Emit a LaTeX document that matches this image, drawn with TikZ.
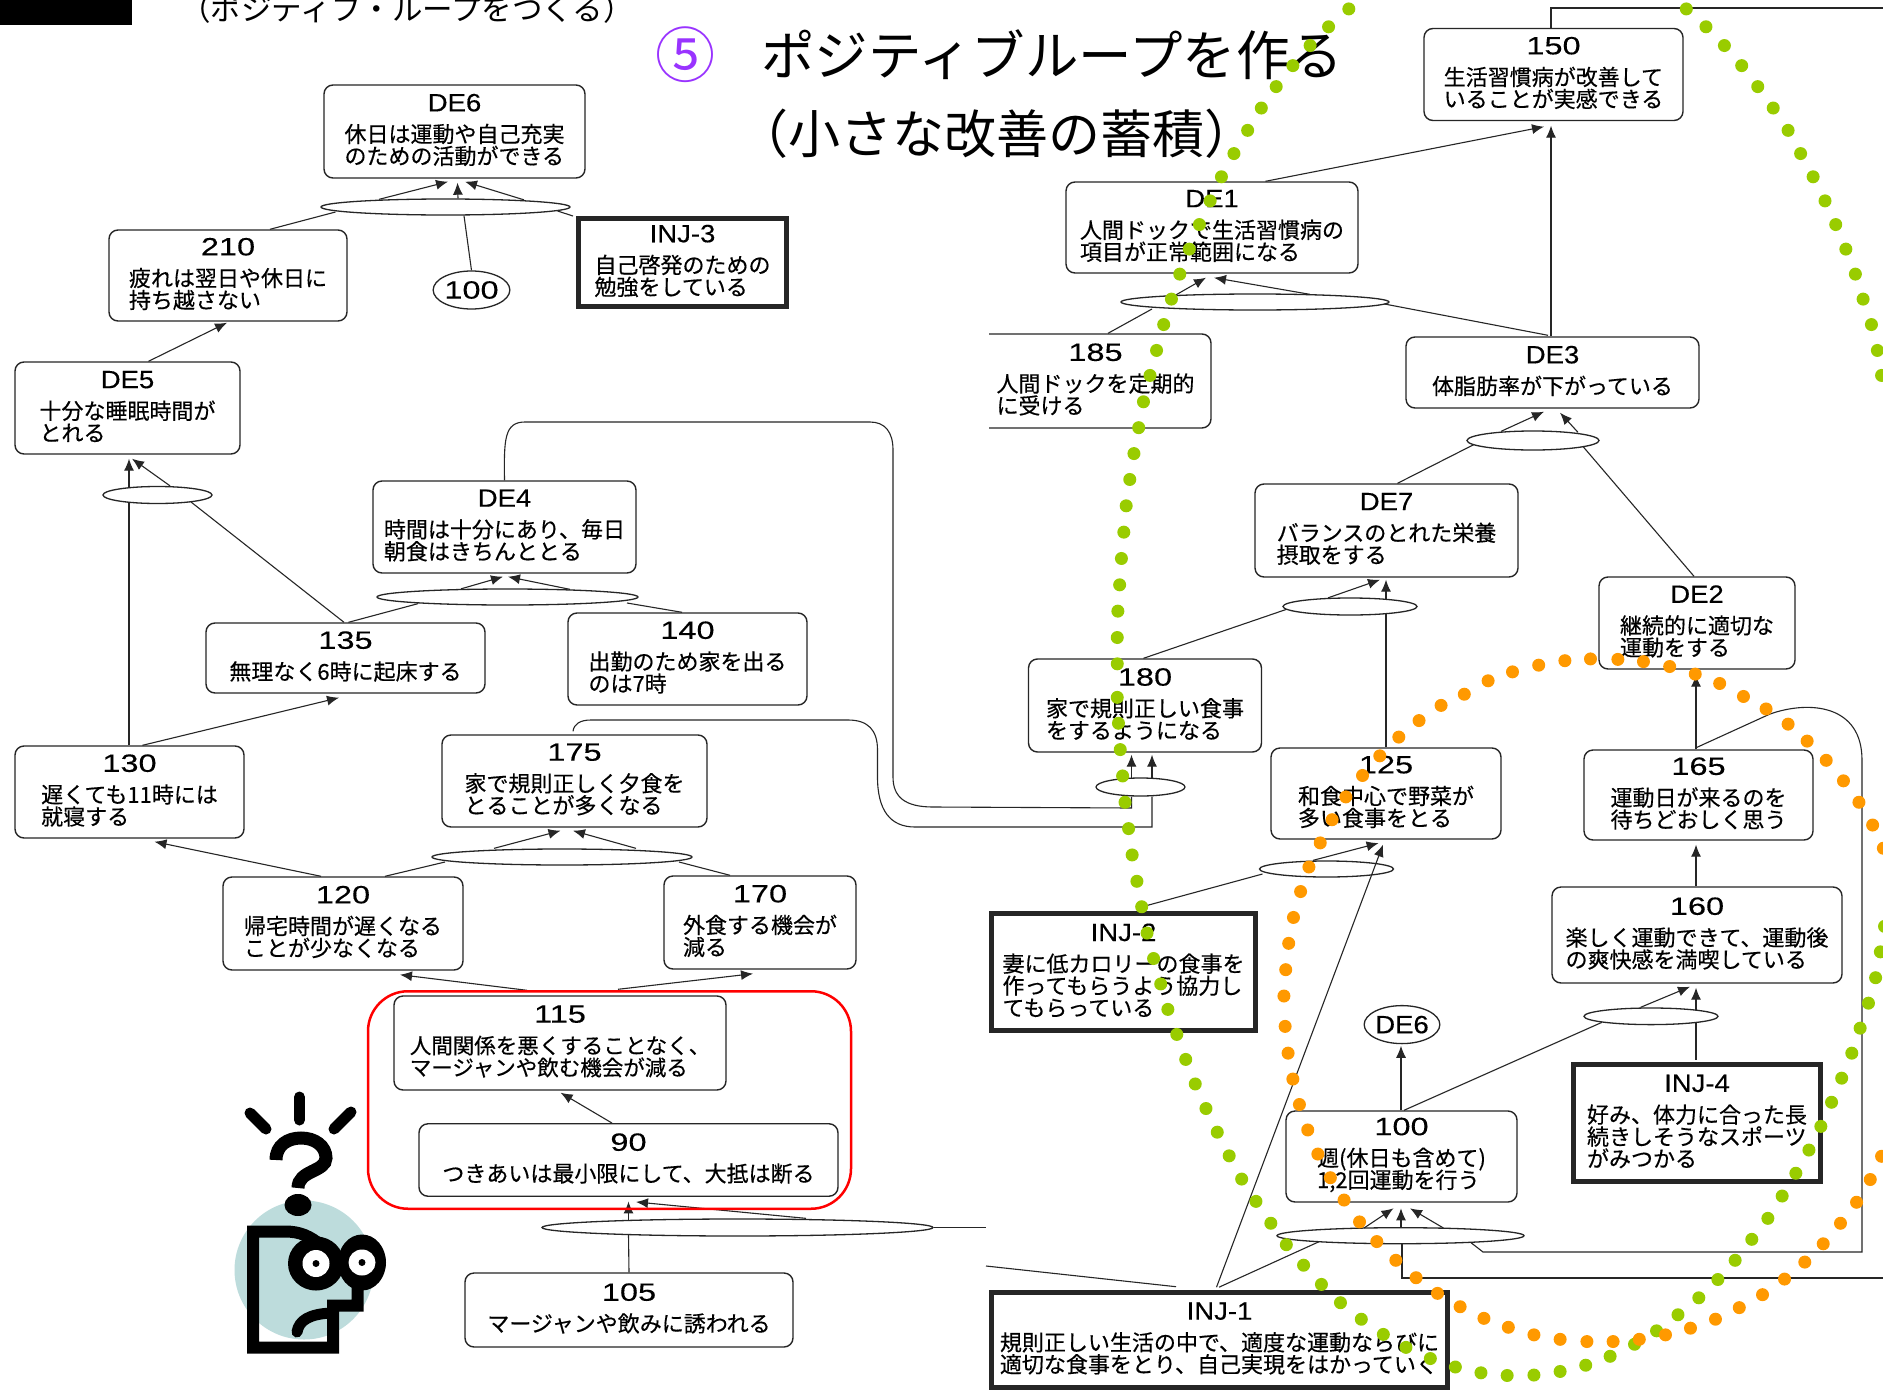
\documentclass[tikz,border=0pt]{standalone}
\usepackage{fontspec}
\usetikzlibrary{arrows.meta,calc,shapes.geometric}
\setmainfont{Noto Sans CJK JP}
\newfontfamily\bodyf[FakeBold=0.4]{Noto Sans CJK JP}
\newfontfamily\ttlf[FakeStretch=1.1,FakeBold=0.3]{Liberation Sans}
\newfontfamily\numf[FakeStretch=1.3,FakeBold=0.3]{Liberation Sans}
\newcommand\tf{\ttlf\fontsize{25}{22}\selectfont}
\newcommand\nf{\numf\fontsize{25}{22}\selectfont}
\newcommand\bt[2]{\vbox{\lineskiplimit=-100pt\baselineskip=22pt\tabskip=0pt\halign{##\hfil\cr\hfil{\tf #1}\cr\noalign{\kern 9pt}#2\cr\noalign{\kern 3pt}}}}
\definecolor{dotg}{HTML}{99CC00}
\definecolor{doto}{HTML}{FF9900}
\definecolor{purp}{HTML}{9933FF}
\definecolor{teal1}{HTML}{BDDCDC}
\tikzset{
  base/.style={draw=black!85,inner sep=0pt,font=\bodyf\fontsize{22}{22}\selectfont,align=left},
  bx/.style={base,rectangle,rounded corners=9pt,line width=1.4pt,fill=white},
  thickbx/.style={base,rectangle,line width=5pt,fill=white},
  oval/.style={draw=black!85,ellipse,inner sep=0pt,line width=1.3pt,fill=white},
  refoval/.style={oval,font=\tf},
  conn/.style={draw=black!85,line width=1.1pt},
  arr/.style={conn,-{Latex[length=12pt,width=10pt]}},
  dim/.style 2 args={minimum width=#1pt,minimum height=#2pt}
}
\begin{document}
\begin{tikzpicture}[x=1pt,y=-1pt]
\useasboundingbox (0,0) rectangle (1883,1392);
\clip (0,0) rectangle (1883,1392);
\fill[white] (0,0) rectangle (1883,1392);
\fill[black] (0,0) rectangle (132,24.5);
\node[font=\fontsize{30.5}{30.5}\selectfont,inner sep=0pt] (hdr) at (407,9) {（ポジティブ・ループをつくる）};
\node[font=\fontsize{60}{60}\selectfont,text=purp,inner sep=0pt] (num) at (685,55) {⑤};
\node[font=\fontsize{53.5}{53.5}\selectfont,anchor=west,inner sep=0pt] (ttl) at (761,55) {ポジティブループを作る};
\node[font=\fontsize{52}{52}\selectfont,anchor=west,inner sep=0pt] (sub) at (736,134) {（小さな改善の蓄積）};
% boxes
\node[bx,dim={261}{93}] (de6) at (454.5,131.5) {\bt{DE6}{休日は運動や自己充実\cr のための活動ができる}};
\node[bx,dim={238}{91}] (n210) at (228,275.5) {\bt{\nf 210}{疲れは翌日や休日に\cr 持ち越さない}};
\node[refoval,dim={68}{38}] (r100) at (471.5,290) {\nf 100};
\node[thickbx,dim={208}{88}] (inj3) at (682.5,262.5) {\bt{INJ-3}{自己啓発のための\cr 勉強をしている}};
\node[bx,dim={225}{92}] (de5) at (127.5,408) {\bt{DE5}{十分な睡眠時間が\cr とれる}};
\node[bx,dim={263}{92}] (de4) at (504.5,527) {\bt{DE4}{時間は十分にあり、毎日\cr 朝食はきちんととる}};
\node[bx,dim={279}{70}] (n135) at (345.5,658) {\bt{\nf 135}{無理なく6時に起床する}};
\node[bx,dim={239}{92}] (n140) at (687.5,659) {\bt{\nf 140}{出勤のため家を出る\cr のは7時}};
\node[bx,dim={229}{92}] (n130) at (129.5,792) {\bt{\nf 130}{遅くても11時には\cr 就寝する}};
\node[bx,dim={265}{92}] (n175) at (574.5,781) {\bt{\nf 175}{家で規則正しく夕食を\cr とることが多くなる}};
\node[bx,dim={240}{93}] (n120) at (343,923.5) {\bt{\nf 120}{帰宅時間が遅くなる\cr ことが少なくなる}};
\node[bx,dim={192}{93}] (n170) at (760,922.5) {\bt{\nf 170}{外食する機会が\cr 減る}};
\node[bx,dim={332}{94}] (n115) at (560,1043) {\bt{\nf 115}{\fontsize{21.5}{22}\selectfont 人間関係を悪くすることなく、\cr\fontsize{21.5}{22}\selectfont マージャンや飲む機会が減る}};
\node[bx,dim={419}{72.5}] (n90) at (628.5,1160) {\bt{\nf 90}{つきあいは最小限にして、大抵は断る}};
\node[bx,dim={328}{74}] (n105) at (629,1310) {\bt{\nf 105}{マージャンや飲みに誘われる}};
\node[bx,dim={259}{92}] (n150) at (1553.5,74.5) {\bt{\nf 150}{生活習慣病が改善して\cr いることが実感できる}};
\node[bx,dim={292}{91}] (de1) at (1212,227.5) {\bt{DE1}{人間ドックで生活習慣病の\cr 項目が正常範囲になる}};
\node[bx,dim={231}{94}] (n185) at (1095.5,381) {\bt{\nf 185}{人間ドックを定期的\cr に受ける}};
\node[bx,dim={293}{71}] (de3) at (1552.5,372.5) {\bt{DE3}{体脂肪率が下がっている}};
\node[bx,dim={263}{93}] (de7) at (1386.5,530.5) {\bt{DE7}{バランスのとれた栄養\cr 摂取をする}};
\node[bx,dim={196}{92}] (de2) at (1697,623) {\bt{DE2}{継続的に適切な\cr 運動をする}};
\node[bx,dim={233}{93}] (n180) at (1145,705.5) {\bt{\nf 180}{家で規則正しい食事\cr をするようになる}};
\node[bx,dim={230}{91}] (n125) at (1386,793.5) {\bt{\nf 125}{和食中心で野菜が\cr 多い食事をとる}};
\node[bx,dim={229}{90}] (n165) at (1698.5,795) {\bt{\nf 165}{運動日が来るのを\cr 待ちどおしく思う}};
\node[bx,dim={290}{96}] (n160) at (1697,935) {\bt{\nf 160}{楽しく運動できて、運動後\cr の爽快感を満喫している}};
\node[thickbx,dim={264}{117.5}] (inj2) at (1123.5,972) {\bt{INJ-2}{妻に低カロリーの食事を\cr 作ってもらうよう協力し\cr てもらっている}};
\node[refoval,dim={68}{38}] (r6) at (1402,1024.6) {DE6};
\node[bx,dim={231}{91}] (n100) at (1401.5,1156.5) {\bt{\nf 100}{週(休日も含めて)\cr 1,2回運動を行う}};
\node[thickbx,dim={247}{116.5}] (inj4) at (1697,1123) {\bt{INJ-4}{好み、体力に合った長\cr 続きしそうなスポーツ\cr がみつかる}};
\node[thickbx,dim={456}{95.6}] (inj1) at (1219.5,1340) {\bt{INJ-1}{規則正しい生活の中で、適度な運動ならびに\cr 適切な食事をとり、自己実現をはかっていく}};
% stitched page edge
\fill[white] (960,330) rectangle (988.5,1392);
% ellipses
\node[oval,dim={249}{16}] (eDE6) at (445.5,207) {};
\node[oval,dim={109}{17}] (eDE5) at (157.5,495) {};
\node[oval,dim={261}{16}] (eDE4) at (507.5,597) {};
\node[oval,dim={260}{16}] (e175) at (562,857) {};
\node[oval,dim={391}{17}] (e90) at (737.5,1227.5) {};
\node[oval,dim={268}{16}] (eDE1) at (1255,302) {};
\node[oval,dim={132}{19}] (eDE3) at (1533,440.5) {};
\node[oval,dim={134}{17}] (eDE7) at (1350,606.5) {};
\node[oval,dim={89}{18}] (e180) at (1140.5,787) {};
\node[oval,dim={134}{16}] (e125) at (1326.5,869) {};
\node[oval,dim={134}{16.6}] (e160) at (1651,1016.3) {};
\node[oval,dim={247}{16}] (e100) at (1400.5,1235.7) {};
\coordinate (topR) at (1890,8);
\coordinate (botR) at (1890,1278);
\coordinate (seamA) at (986,1227.5);
\coordinate (seamB) at (986,1266);
% connectors
\draw[conn] ($(n210.north)+(42,0)$) -- ($(eDE6.center)+(-110,5)$);
\draw[arr] ($(eDE6.north)+(-66.5,1)$) -- ($(de6.south)+(-6.5,3)$);
\draw[conn] (r100.north) -- ($(eDE6.south)+(18.5,0)$);
\draw[arr] ($(eDE6.north)+(12.5,0)$) -- ($(de6.south)+(3,4)$);
\draw[conn] ($(inj3.north west)+(-3,0)$) -- ($(eDE6.center)+(112,4)$);
\draw[arr] ($(eDE6.north)+(78.5,1.5)$) -- ($(de6.south)+(10.5,3)$);
\draw[arr] ($(de5.north)+(21,0)$) -- ($(n210.south)+(-1,1)$);
\draw[conn] ($(n130.north)+(-0.5,0)$) -- ($(eDE5.center)+(-28.5,7)$);
\draw[arr] ($(eDE5.center)+(-28.5,-7)$) -- ($(de5.south)+(1.5,4)$);
\draw[conn] ($(n135.north)+(-1.5,0)$) -- ($(eDE5.center)+(33.5,7)$);
\draw[arr] ($(eDE5.north)+(12.5,0)$) -- ($(de5.south)+(4.5,4)$);
\draw[conn] ($(n135.north)+(3,0)$) -- ($(eDE4.south)+(-89.5,-2)$);
\draw[arr] ($(eDE4.north)+(-46.5,0.5)$) -- ($(de4.south)+(-1.5,3)$);
\draw[conn] ($(n140.north)+(-5.5,0)$) -- ($(eDE4.center)+(119.5,6)$);
\draw[arr] ($(eDE4.north)+(62.5,1)$) -- ($(de4.south)+(3.5,3)$);
\draw[conn] (de4.north) .. controls (504,440) and (504,422) .. (525,422) -- (870,422) .. controls (885,422) and (893,432) .. (893,450) -- (893,777) .. controls (893,797) and (905,807) .. (933,807) -- (1131.5,808) -- ($(e180.south)+(-9,0)$);
\draw[arr] ($(e180.north)+(-9,0.5)$) -- ($(n180.south)+(-13.5,2)$);
\draw[conn] ($(n175.north)+(-1.5,-3)$) .. controls (574,724) and (580,720) .. (591,720) -- (848,720) .. controls (868,720) and (877.5,730) .. (877.5,750) -- (877.5,777) .. controls (877.5,810) and (890,827) .. (915,827) -- (1152,827) -- ($(e180.south)+(11.5,0)$);
\draw[arr] ($(e180.north)+(11.5,0.5)$) -- ($(n180.south)+(7,2)$);
\draw[arr] ($(n120.north)+(-22,0)$) -- ($(n130.south)+(25,3)$);
\draw[arr] ($(n130.north)+(13,0)$) -- ($(n135.south)+(-6.5,4)$);
\draw[conn] ($(n120.north)+(42,0)$) -- ($(e175.center)+(-117,5)$);
\draw[arr] ($(e175.north)+(-68,0)$) -- ($(n175.south)+(-14,3)$);
\draw[conn] ($(n170.north)+(-30,0)$) -- ($(e175.center)+(117,5)$);
\draw[arr] ($(e175.north)+(74,0)$) -- ($(n175.south)+(-1.5,3)$);
\draw[arr] ($(n115.north)+(-33,-5)$) -- ($(n120.south)+(57,4)$);
\draw[arr] ($(n115.north)+(58,-6)$) -- ($(n170.south)+(-7,4)$);
\draw[arr] ($(n90.north)+(-16.5,0)$) -- ($(n115.south)+(0.6,2)$);
\draw[conn] (n105.north) -- ($(e90.center)+(-109,7)$);
\draw[arr] ($(e90.center)+(-109,-7)$) -- ($(n90.south)+(0,4.5)$);
\draw[arr] ($(e90.north)+(68.5,0)$) -- ($(n90.south)+(7.5,5)$);
\draw[conn] (e90.east) -- (seamA);
\draw[arr] ($(de1.north)+(53.5,0)$) -- ($(n150.south)+(-9.5,5.5)$);
\draw[arr] ($(de3.north)+(-1.5,0)$) -- ($(n150.south)+(-2.5,4.5)$);
\draw[conn] ($(n150.north)+(-2.5,0)$) |- (topR);
\draw[conn] ($(n185.north)+(12.5,0)$) -- ($(eDE1.center)+(-103,7)$);
\draw[arr] ($(eDE1.north)+(-79,1.5)$) -- ($(de1.south)+(-6,4)$);
\draw[conn] ($(de3.north)+(-4.5,-1)$) -- ($(eDE1.center)+(129.5,2)$);
\draw[arr] ($(eDE1.north)+(55,1)$) -- ($(de1.south)+(2,4)$);
\draw[conn] ($(de7.north)+(11,0)$) -- ($(eDE3.center)+(-59,4)$);
\draw[arr] ($(eDE3.north)+(-32,1)$) -- ($(de3.south)+(-8.5,3)$);
\draw[conn] ($(de2.north)+(-3,0)$) -- ($(eDE3.center)+(50,6)$);
\draw[arr] ($(eDE3.north)+(45,2)$) -- ($(de3.south)+(7.5,4)$);
\draw[conn] ($(n180.north)+(-1.5,0)$) -- ($(eDE7.center)+(-64,3)$);
\draw[arr] ($(eDE7.north)+(-22,0.5)$) -- ($(de7.south)+(-6.5,2)$);
\draw[conn] (n125.north) -- ($(eDE7.center)+(36,7)$);
\draw[arr] ($(eDE7.center)+(36,-7)$) -- ($(de7.south)+(-0.5,2)$);
\draw[arr] ($(n165.north)+(-2.5,0)$) -- ($(de2.south)+(-1,5)$);
\draw[arr] ($(n160.north)+(-1,0)$) -- ($(n165.south)+(-2.5,4)$);
\draw[arr] ($(n100.north)+(-0.5,0)$) -- ($(r6.south)+(-1,1.5)$);
\draw[conn] ($(n100.north)+(2.5,0)$) -- ($(e160.center)+(-49,6)$);
\draw[arr] ($(e160.north)+(-10.5,0)$) -- ($(n160.south)+(-7,3)$);
\draw[conn] ($(inj4.north)+(-1,-2.5)$) -- ($(e160.center)+(45,6)$);
\draw[arr] ($(e160.center)+(45,-6)$) -- ($(n160.south)+(-1,4)$);
\draw[conn] ($(inj2.north)+(22.5,-5)$) -- ($(e125.center)+(-64,5)$);
\draw[arr] ($(e125.north)+(-13.5,0)$) -- ($(n125.south)+(-7.4,3.4)$);
\draw[arr] ($(inj1.north)+(-3,-2.5)$) -- ($(n125.south)+(-3,5)$);
\draw[conn] ($(inj1.north)+(-0.5,-2.5)$) -- ($(e100.center)+(-81.5,6)$);
\draw[arr] ($(e100.north)+(-36.5,1)$) -- ($(n100.south)+(-8,5.6)$);
\draw[arr] ($(e100.north)+(0.5,0)$) -- ($(n100.south)+(-0.5,5.6)$);
\draw[arr] ($(e100.north)+(43,1)$) -- ($(n100.south)+(8.5,5.6)$);
\draw[conn] ($(n165.north)+(-1.5,-2)$) -- (1770,714) .. controls (1810,700) and (1862,705) .. (1862,760) -- (1862,1252) -- (1483,1252) -- ($(e100.center)+(70.5,7)$);
\draw[conn] ($(e100.south)+(1.5,0)$) |- (botR);
\draw[conn] (seamB) -- ($(inj1.north)+(-43.5,-3)$);
% red frame
\node[draw=red,rectangle,rounded corners=40pt,line width=2.5pt,dim={483}{217.5}] (frame) at (609.5,1100) {};
% face
\fill[teal1] (304,1270) circle (69.5pt);
\draw[black,line width=11pt,line cap=round] (299.4,1097) -- (299.4,1120);
\draw[black,line width=11pt,line cap=round] (250,1113) -- (266,1129);
\draw[black,line width=11pt,line cap=round] (351,1112) -- (334,1129);
\draw[black,line width=13pt] (276,1160) .. controls (276,1145) and (288,1138) .. (301,1138) .. controls (315,1138) and (326,1146) .. (326,1158) .. controls (326,1172) and (298,1170) .. (298,1188);
\fill[black] (298,1205) ellipse (13.5pt and 11pt);
\draw[black,line width=12pt] (357.5,1280) -- (357.5,1305.5) -- (333,1305.5) -- (333,1347.6) -- (253,1347.6) -- (253,1231.5) -- (285,1231.5) .. controls (300,1231.5) and (310,1236) .. (322,1246);
\fill[black] (316,1263.5) ellipse (28pt and 27pt);
\fill[black] (362,1262.5) ellipse (24pt and 28pt);
\fill[white] (316,1263.5) circle (13.5pt);
\fill[white] (362,1262.5) ellipse (13.5pt and 13pt);
\fill[black] (316,1263.5) circle (3.5pt);
\fill[black] (362,1262.5) circle (3.5pt);
\draw[black,line width=11pt,line cap=round] (297,1332) .. controls (299,1320) and (310,1314) .. (331,1313);
% dotted arcs
\foreach \x/\y in {670/20,636/60,605/102,576/147,548/194,523/242,500/292,477/344,456/396,437/450,419/503,402/558,386/614,372/670,359/727,347/785,336/841,325/900,317/958,309/1016,302/1074,296/1133,292/1192,288/1251,285/1310,282/1369,281/1428,281/1487,1237/20,1270/60,1301/102,1330/147,1357/194,1383/242,1408/292,1429/344,1450/396,1470/450,1488/503,1505/558,1521/614,1534/670,1548/727,1558/785,1565/841}
  \fill[dotg] ({950+\x/1.68},{\y/2.24}) circle (6.5pt);
\foreach \x/\y in {281/12,283/70,286/129,290/188,294/247,300/306,306/365,314/424,322/481,331/540,342/597,354/654,366/711,381/767,396/823,412/878,430/933,449/986,469/1039,490/1091,514/1141,539/1190,565/1238,594/1284,624/1327,656/1368,691/1405,728/1439,766/1468,807/1493,849/1512,892/1525,936/1531,981/1530,1025/1522,1068/1508,1109/1488,1150/1461,1187/1431,1223/1395,1258/1357,1290/1316,1319/1273,1347/1226,1374/1179,1398/1129,1421/1078,1443/1026,1463/973,1481/919,1498/865,1515/809,1529/753,1543/697,1555/640,1563/582,1570/525}
  \fill[dotg] ({950+\x/1.68},{692+\y/2.24}) circle (6.5pt);
\foreach \x/\y in {904/1525,945/1505,989/1490,1033/1480,1076/1476,1122/1477,1165/1482,1209/1493,1252/1510,1293/1531}
  \fill[doto] ({950+\x/1.68},{\y/2.24}) circle (6.5pt);
\foreach \x/\y in {864/5,825/30,788/64,754/101,722/143,693/187,665/235,642/286,622/338,603/392,589/447,577/505,569/563,564/622,561/681,563/749,568/809,576/867,587/924,601/981,618/1035,639/1088,662/1138,688/1187,717/1231,749/1273,783/1312,819/1347,857/1377,897/1403,938/1423,981/1440,1025/1450,1070/1455,1114/1455,1158/1450,1202/1440,1244/1425,1286/1405,1326/1379,1365/1350,1402/1315,1436/1277,1467/1236,1496/1190,1523/1143,1546/1092,1565/1040,1333/10,1371/38,1408/72,1440/110,1472/153,1501/199,1527/247,1550/298,1568/350}
  \fill[doto] ({950+\x/1.68},{692+\y/2.24}) circle (6.5pt);
\end{tikzpicture}
\end{document}
